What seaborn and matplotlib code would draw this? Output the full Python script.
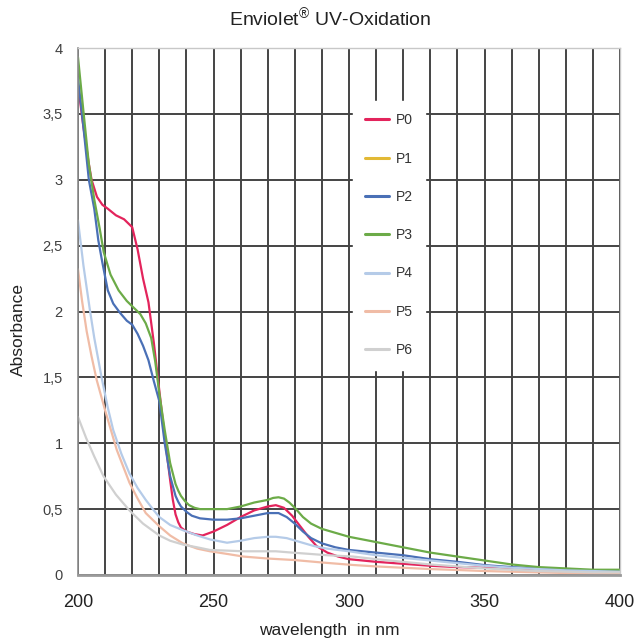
import pandas as pd
import seaborn as sns
import matplotlib
matplotlib.use("Agg")
import matplotlib.pyplot as plt
from matplotlib.ticker import MultipleLocator, FuncFormatter

# absorbance spectra
p0_nm = [200, 202, 204, 205, 207, 209, 211, 214, 217, 220, 222, 224, 226, 228, 230, 232, 234, 235,
         236, 237, 238, 240, 243, 246, 250, 255, 260, 265, 270, 273, 276, 279, 282, 285, 288, 292,
         296, 300, 310, 320, 330, 340, 350, 360, 370, 380, 390, 400]
p0_abs = [3.72, 3.40, 3.12, 3.00, 2.87, 2.81, 2.78, 2.73, 2.70, 2.64, 2.47, 2.25, 2.07, 1.76, 1.40,
          1.05, 0.72, 0.57, 0.46, 0.40, 0.36, 0.33, 0.31, 0.30, 0.33, 0.38, 0.44, 0.49, 0.52, 0.53,
          0.51, 0.45, 0.37, 0.29, 0.22, 0.17, 0.14, 0.12, 0.10, 0.085, 0.07, 0.06, 0.055, 0.05,
          0.045, 0.04, 0.035, 0.03]

p1_nm = []
p1_abs = []

p2_nm = [200, 202, 204, 206, 207.5, 209, 211, 213, 215.5, 218, 220, 222, 224, 226, 228, 230, 232,
         234, 236, 237, 238, 240, 242, 245, 250, 255, 260, 265, 270, 274, 277, 280, 283, 286, 290,
         295, 300, 310, 320, 330, 340, 350, 360, 370, 380, 390, 400]
p2_abs = [3.77, 3.40, 3.00, 2.78, 2.54, 2.37, 2.16, 2.06, 1.99, 1.93, 1.90, 1.83, 1.74, 1.63, 1.47,
          1.32, 1.00, 0.75, 0.60, 0.555, 0.52, 0.48, 0.45, 0.43, 0.42, 0.42, 0.43, 0.45, 0.47, 0.47,
          0.44, 0.39, 0.33, 0.28, 0.24, 0.21, 0.19, 0.17, 0.15, 0.12, 0.10, 0.075, 0.06, 0.05, 0.04,
          0.035, 0.03]

p3_nm = [200, 202, 204, 206, 208, 209.5, 212, 215, 218, 221, 223, 225, 227, 228.5, 230, 232, 234,
         236, 237, 238, 239.5, 241, 243, 245, 250, 255, 260, 265, 270, 272, 274, 276, 278, 280, 283,
         286, 290, 295, 300, 310, 320, 330, 340, 350, 360, 370, 380, 390, 400]
p3_abs = [3.93, 3.52, 3.12, 2.85, 2.63, 2.45, 2.28, 2.16, 2.08, 2.02, 1.98, 1.91, 1.80, 1.62, 1.38,
          1.10, 0.85, 0.69, 0.64, 0.60, 0.56, 0.53, 0.51, 0.50, 0.50, 0.50, 0.52, 0.55, 0.57, 0.585,
          0.59, 0.58, 0.55, 0.51, 0.44, 0.39, 0.35, 0.32, 0.29, 0.25, 0.21, 0.17, 0.14, 0.11, 0.08,
          0.06, 0.05, 0.04, 0.04]

p4_nm = [200, 202, 204.4, 206, 208.7, 211, 213, 216, 219, 222, 225, 228, 230, 234, 238.7, 244,
         248.7, 255, 260, 265, 270, 273, 277, 282, 287, 292, 300, 310, 320, 330, 340, 350, 360, 370,
         380, 390, 400]
p4_abs = [2.69, 2.35, 2.01, 1.80, 1.50, 1.27, 1.10, 0.92, 0.77, 0.66, 0.57, 0.49, 0.44, 0.38, 0.34,
          0.30, 0.27, 0.245, 0.26, 0.28, 0.29, 0.29, 0.28, 0.25, 0.22, 0.20, 0.18, 0.15, 0.13, 0.11,
          0.09, 0.07, 0.055, 0.045, 0.035, 0.03, 0.025]

p5_nm = [200, 201.5, 203.2, 205, 206.9, 210, 214.3, 219, 222, 225, 230, 234, 238.7, 244, 248.7,
         255, 261, 270, 279.5, 290, 301.5, 310, 320, 330, 340, 350, 360, 370, 380, 390, 400]
p5_abs = [2.32, 2.08, 1.85, 1.66, 1.48, 1.25, 0.95, 0.70, 0.58, 0.47, 0.37, 0.30, 0.24, 0.20, 0.18,
          0.16, 0.14, 0.125, 0.114, 0.095, 0.076, 0.065, 0.055, 0.045, 0.038, 0.03, 0.025, 0.02,
          0.015, 0.012, 0.01]

p6_nm = [200, 203, 206, 209.4, 214, 219, 224, 230, 234, 238.9, 244, 248.7, 255, 261, 267, 273, 279,
         285.6, 292, 301.5, 310, 320, 330, 340, 350, 360, 370, 380, 390, 400]
p6_abs = [1.20, 1.04, 0.90, 0.75, 0.61, 0.49, 0.39, 0.30, 0.26, 0.23, 0.21, 0.19, 0.185, 0.18, 0.18,
          0.18, 0.17, 0.16, 0.15, 0.14, 0.12, 0.10, 0.08, 0.065, 0.05, 0.04, 0.03, 0.025, 0.02, 0.02]

samples = ["P0", "P1", "P2", "P3", "P4", "P5", "P6"]
colors = ["#e3245c", "#e2b935", "#4a70b6", "#6cab48", "#b5cbe8", "#f0bca6", "#d0d0d0"]

series = {
    "P0": (p0_nm, p0_abs), "P1": (p1_nm, p1_abs), "P2": (p2_nm, p2_abs), "P3": (p3_nm, p3_abs),
    "P4": (p4_nm, p4_abs), "P5": (p5_nm, p5_abs), "P6": (p6_nm, p6_abs),
}
rows = []
for name, (nm, ab) in series.items():
    for x, y in zip(nm, ab):
        rows.append({"nm": x, "A": y, "sample": name})
df = pd.DataFrame(rows, columns=["nm", "A", "sample"])

sns.set_style("white")
plt.rcParams["font.family"] = ["Liberation Sans", "DejaVu Sans"]
plt.rcParams["mathtext.fontset"] = "custom"
plt.rcParams["mathtext.rm"] = "Liberation Sans"
plt.rcParams["mathtext.it"] = "Liberation Sans"

fig = plt.figure(figsize=(6.35, 6.39), dpi=100)
ax = fig.add_axes([78 / 635, 1 - 575 / 639, 542 / 635, 527 / 639])

sns.lineplot(data=df, x="nm", y="A", hue="sample", hue_order=samples,
             palette=dict(zip(samples, colors)), linewidth=1.6, sort=False,
             estimator=None, ax=ax)

ax.set_xlim(200, 400)
ax.set_ylim(0, 4)
ax.xaxis.set_major_locator(MultipleLocator(50))
ax.xaxis.set_minor_locator(MultipleLocator(10))
ax.yaxis.set_major_locator(MultipleLocator(0.5))
ax.yaxis.set_major_formatter(FuncFormatter(lambda v, _: f"{v:g}".replace(".", ",")))

ax.grid(True, which="both", color="#444444", linewidth=1.4)
ax.set_axisbelow(True)
ax.yaxis.get_gridlines()[-1].set_visible(False)
ax.xaxis.get_gridlines()[-1].set_visible(False)

ax.tick_params(axis="x", which="major", direction="out", length=5, width=1, color="#7f7f7f",
               pad=9, labelsize=13, labelcolor="#222222")
ax.tick_params(axis="x", which="minor", length=0)
ax.tick_params(axis="y", direction="out", length=5, width=1, color="#7f7f7f",
               pad=6, labelsize=10.5, labelcolor="#404040")

for side in ["top", "right"]:
    ax.spines[side].set_color("#c8c8c8")
    ax.spines[side].set_linewidth(1)
ax.spines["left"].set_color("#8c8c8c")
ax.spines["left"].set_linewidth(1.2)
ax.spines["bottom"].set_color("#9a9a9a")
ax.spines["bottom"].set_linewidth(2)

ax.set_xlabel("")
ax.set_ylabel("")
fig.text(0.518, 1 - 631 / 639, "wavelength  in nm", ha="center", va="center",
         fontsize=12.5, color="#222222")
fig.text(18 / 635, 1 - 330 / 639, "Absorbance", ha="center", va="center", rotation=90,
         fontsize=12.5, color="#222222")
fig.text(330 / 635, 1 - 18 / 639, r"Enviolet$^{®}$ UV-Oxidation", ha="center", va="center",
         fontsize=14, color="#222222")

leg = ax.legend(loc="upper left", bbox_to_anchor=(0.507, 0.9), frameon=True, fontsize=10,
                labelspacing=1.75, handlelength=1.7, handletextpad=0.5, borderpad=0.9,
                borderaxespad=0)
leg.get_frame().set_facecolor("white")
leg.get_frame().set_edgecolor("white")
leg.get_frame().set_alpha(1)
for line in leg.get_lines():
    line.set_linewidth(2.2)
for t in leg.get_texts():
    t.set_color("#333333")

fig.savefig("out.png", dpi=100)
